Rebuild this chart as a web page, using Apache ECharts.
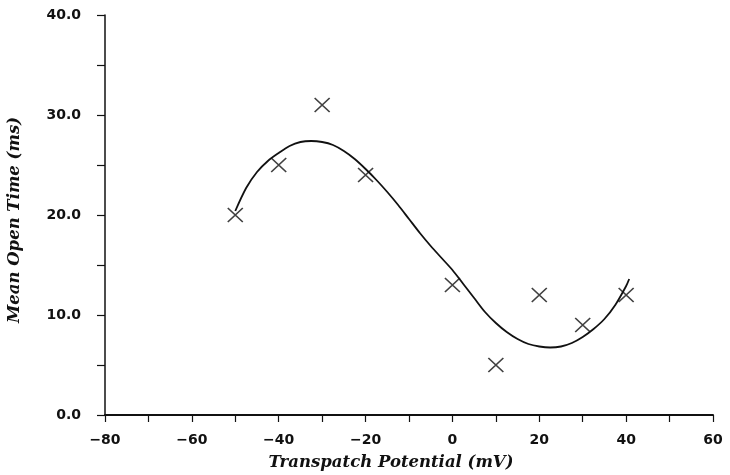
<!DOCTYPE html>
<html>
<head>
<meta charset="utf-8">
<script src="https://cdn.jsdelivr.net/npm/echarts@6/dist/echarts.min.js"></script>
<style>
html,body{margin:0;padding:0;background:#fff;}
#chart{width:730px;height:475px;}
</style>
</head>
<body>
<div id="chart"></div>
<script>
// Measured points (X markers)
var potentials = [-50, -40, -30, -20, 0, 10, 20, 30, 40];
var openTimes = [20.0, 25.0, 31.0, 24.0, 13.0, 5.0, 12.0, 9.0, 12.0];

// Fitted curve
var curveX = [-50, -47.5, -45, -42.5, -40, -37.5, -35, -32.5, -30, -27.5, -25, -22.5, -20, -17.5, -15, -12.5, -10, -7.5, -5, -2.5, 0, 2.5, 5, 7.5, 10, 12.5, 15, 17.5, 20, 22.5, 25, 27.5, 30, 32.5, 35, 37.5, 40, 40.7];
var curveY = [20.4, 22.7, 24.3, 25.4, 26.2, 26.9, 27.3, 27.4, 27.3, 27.0, 26.4, 25.6, 24.6, 23.5, 22.3, 21.0, 19.6, 18.2, 16.9, 15.7, 14.5, 13.1, 11.7, 10.3, 9.2, 8.3, 7.6, 7.1, 6.85, 6.75, 6.85, 7.2, 7.8, 8.6, 9.6, 11.0, 12.9, 13.6];

// Tick labels
var xTickLabels = ['\u221280', '\u221260', '\u221240', '\u221220', '0', '20', '40', '60'];
var yTickLabels = ['0.0', '10.0', '20.0', '30.0', '40.0'];

var xName = 'Transpatch Potential (mV)';
var yName = 'Mean Open Time (ms)';

var chart = echarts.init(document.getElementById('chart'));

function pairs(xs, ys) {
  return xs.map(function (x, i) { return [x, ys[i]]; });
}

var tickFont = { fontFamily: 'DejaVu Sans', fontWeight: 'bold', fontSize: 14, color: '#111' };
var nameFont = { fontFamily: 'DejaVu Serif', fontWeight: 'bold', fontStyle: 'italic', fontSize: 16.5, color: '#111' };

chart.setOption({
  animation: false,
  backgroundColor: '#fff',
  grid: { left: 105, right: 17, top: 15, bottom: 60, containLabel: false, outerBoundsMode: 'none' },
  xAxis: {
    type: 'value',
    min: -80, max: 60, interval: 10,
    name: xName,
    nameLocation: 'middle',
    nameGap: 39,
    nameTextStyle: Object.assign({ padding: [0, 36, 0, 0] }, nameFont),
    axisLine: { show: true, onZero: false, lineStyle: { color: '#111', width: 2 } },
    axisTick: { show: true, inside: false, length: 7, lineStyle: { color: '#111', width: 1.2 } },
    axisLabel: Object.assign({
      margin: 18,
      formatter: function (v) {
        if (v % 20 !== 0) return '';
        return xTickLabels[(v + 80) / 20];
      }
    }, tickFont),
    splitLine: { show: false }
  },
  yAxis: {
    type: 'value',
    min: 0, max: 40, interval: 5,
    name: yName,
    nameLocation: 'middle',
    nameGap: 82,
    nameTextStyle: Object.assign({ padding: [0, 10, 0, 0] }, nameFont),
    axisLine: { show: true, onZero: false, lineStyle: { color: '#111', width: 1.5 } },
    axisTick: { show: true, inside: false, length: 8, lineStyle: { color: '#111', width: 1.2 } },
    axisLabel: Object.assign({
      margin: 24,
      formatter: function (v) {
        if (v % 10 !== 0) return '';
        return yTickLabels[v / 10];
      }
    }, tickFont),
    splitLine: { show: false }
  },
  series: [
    {
      type: 'line',
      data: pairs(curveX, curveY),
      smooth: 0.3,
      showSymbol: false,
      symbol: 'none',
      lineStyle: { color: '#111', width: 1.8 },
      silent: true,
      z: 2
    },
    {
      type: 'scatter',
      data: pairs(potentials, openTimes),
      symbol: 'path://M0,0L10,10M10,0L0,10',
      symbolSize: [15, 14],
      itemStyle: { color: 'rgba(0,0,0,0)', borderColor: '#111', borderWidth: 1.6 },
      z: 3
    }
  ]
});
</script>
</body>
</html>
